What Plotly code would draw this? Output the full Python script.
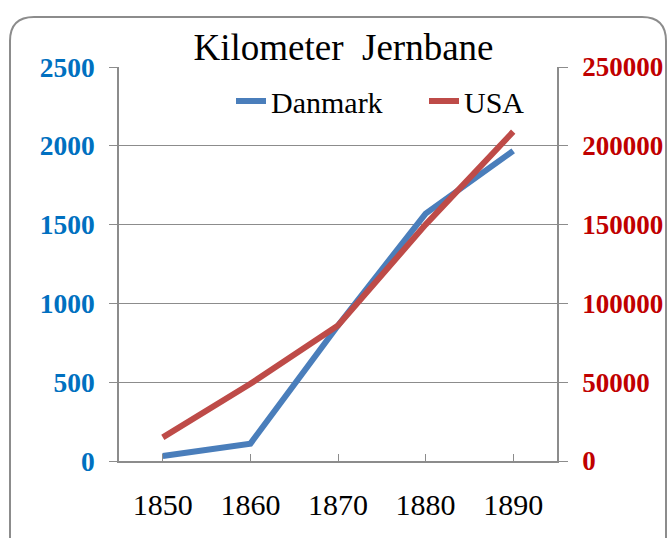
import plotly.graph_objects as go

years = [1850, 1860, 1870, 1880, 1890]
danmark = [32, 110, 860, 1570, 1968]
usa = [15000, 49000, 86000, 150000, 209000]
left_ticks = [0, 500, 1000, 1500, 2000, 2500]
right_ticks = [0, 50000, 100000, 150000, 200000, 250000]
right_labels = ["0", "50000", "100000", "150000", "200000", "250000"]

W, H = 668, 538
PW, PH = 438, 394
L, T = 119, 67
R, B = W - L - PW, H - T - PH

def px(x):
    return (x - L) / PW

def py(y):
    return (H - B - y) / PH

SERIF = "Liberation Serif, Times New Roman, serif"
GRID = "#8c8c8c"

fig = go.Figure()
fig.add_trace(go.Scatter(x=years, y=danmark, name="Danmark", mode="lines",
                         line=dict(color="#4a7ebb", width=6), yaxis="y"))
fig.add_trace(go.Scatter(x=years, y=usa, name="USA", mode="lines",
                         line=dict(color="#be4b48", width=6), yaxis="y2"))

# rounded outer border
x0, y0, x1, y1, r = 10, 17, 666, 580, 24
path = (f"M {px(x0)},{py(y0 + r)} "
        f"Q {px(x0)},{py(y0)} {px(x0 + r)},{py(y0)} "
        f"L {px(x1 - r)},{py(y0)} "
        f"Q {px(x1)},{py(y0)} {px(x1)},{py(y0 + r)} "
        f"L {px(x1)},{py(y1 - r)} "
        f"Q {px(x1)},{py(y1)} {px(x1 - r)},{py(y1)} "
        f"L {px(x0 + r)},{py(y1)} "
        f"Q {px(x0)},{py(y1)} {px(x0)},{py(y1 - r)} Z")

fig.update_layout(
    width=W, height=H,
    margin=dict(l=L, r=R, t=T, b=B, autoexpand=False),
    paper_bgcolor="white", plot_bgcolor="white",
    font=dict(family=SERIF, color="black"),
    title=dict(text="Kilometer  Jernbane", x=343.5 / W, xanchor="center",
               y=1 - 47 / H, yanchor="middle", yref="container",
               font=dict(size=37, family=SERIF, color="black")),
    showlegend=True,
    legend=dict(orientation="h", x=px(231), xanchor="left", y=py(101), yanchor="middle",
                font=dict(size=30, family=SERIF, color="black"),
                bgcolor="rgba(0,0,0,0)", itemwidth=30, entrywidth=148),
    xaxis=dict(range=[1845, 1895], tickvals=years, ticktext=[str(y) for y in years],
               showgrid=False, zeroline=False, showline=True, linecolor=GRID, linewidth=1.5,
               ticks="inside", ticklen=7, tickcolor=GRID, mirror=False,
               tickfont=dict(size=30, family=SERIF, color="black"),
               ticklabelstandoff=16),
    yaxis=dict(range=[0, 2500], tickvals=left_ticks, showgrid=True, gridcolor=GRID, gridwidth=1,
               zeroline=False, showline=True, linecolor=GRID, linewidth=1.5,
               ticks="outside", ticklen=8, tickcolor=GRID,
               tickfont=dict(size=27.5, family=SERIF, color="#0070c0", weight="bold"),
               ticklabelstandoff=9),
    yaxis2=dict(range=[0, 250000], tickvals=right_ticks, ticktext=right_labels,
                overlaying="y", side="right",
                showgrid=False, zeroline=False, showline=True, linecolor=GRID, linewidth=1.5,
                ticks="outside", ticklen=9, tickcolor=GRID,
                tickfont=dict(size=27, family=SERIF, color="#c00000", weight="bold"),
                ticklabelstandoff=9),
    shapes=[dict(type="path", path=path, xref="paper", yref="paper",
                 line=dict(color="#8c8c8c", width=2), fillcolor="rgba(0,0,0,0)", layer="below")],
)

fig.write_html("out.html", config={"displayModeBar": False},
               post_script="document.body.style.margin='0';document.body.style.overflow='hidden';")
